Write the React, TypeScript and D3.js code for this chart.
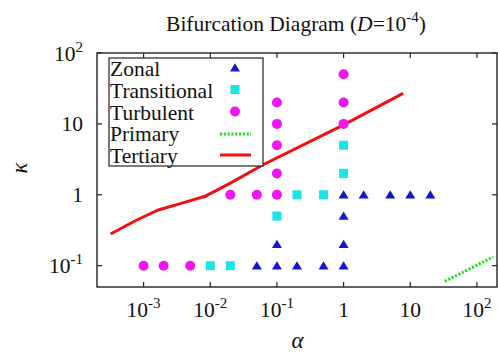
import React from "react";
import * as d3 from "d3";

// ---- data ----
const zonalAlpha = [1, 2, 5, 10, 20, 1, 0.1, 1, 0.05, 0.1, 0.2, 0.5, 1];
const zonalKappa = [1, 1, 1, 1, 1, 0.5, 0.2, 0.2, 0.1, 0.1, 0.1, 0.1, 0.1];

const transAlpha = [0.2, 0.5, 0.1, 1, 1, 0.01, 0.02];
const transKappa = [1, 1, 0.5, 5, 2, 0.1, 0.1];

const turbAlpha = [0.001, 0.002, 0.005, 0.02, 0.05, 0.1, 0.1, 0.1, 0.1, 0.1, 1, 1, 1];
const turbKappa = [0.1, 0.1, 0.1, 1, 1, 1, 2, 5, 10, 20, 10, 20, 50];

const primaryAlpha = [33, 175];
const primaryKappa = [0.06, 0.133];

const tertiary1Alpha = [3.2e-4, 7.5e-4, 1.66e-3, 3.55e-3, 8.9e-3];
const tertiary1Kappa = [0.28, 0.43, 0.61, 0.75, 0.97];
const tertiary2Alpha = [7.8e-3, 0.02, 0.062, 1.0, 7.8];
const tertiary2Kappa = [0.92, 1.46, 2.65, 9.7, 27];

const xTicks = [1e-3, 1e-2, 1e-1, 1, 10, 100];
const xTickBase = ["10", "10", "10", "1", "10", "10"];
const xTickExp = ["-3", "-2", "-1", "", "", "2"];
const yTicks = [0.1, 1, 10, 100];
const yTickBase = ["10", "1", "10", "10"];
const yTickExp = ["-1", "", "", "2"];

const legendLabels = ["Zonal", "Transitional", "Turbulent", "Primary", "Tertiary"];

const BLUE = "#1414d2";
const CYAN = "#18e4ea";
const MAGENTA = "#f014f0";
const GREEN = "#22dd22";
const RED = "#f01010";
const FONT = "'Liberation Serif', 'DejaVu Serif', serif";

const W = 498;
const H = 356;
const L = 97, R = 497, T = 53, B = 287;
const FS = 21.5;
const SUP = 15;

export default function App() {
  const x = d3.scaleLog().domain([2e-4, 200]).range([L, R]);
  const y = d3.scaleLog().domain([0.05, 100]).range([B, T]);
  const line = d3
    .line<[number, number]>()
    .x((d) => x(d[0]))
    .y((d) => y(d[1]));
  const zip = (a: number[], b: number[]) => a.map((v, i) => [v, b[i]] as [number, number]);

  const tri = (cx: number, cy: number, s = 5) =>
    `M${cx},${cy - s * 0.9} L${cx + s},${cy + s * 0.75} L${cx - s},${cy + s * 0.75} Z`;

  const tickLen = 5;
  const legX = 235;
  const legRows = [67.7, 89.5, 111.5, 134, 155];
  const legBase = [76, 97.5, 119.5, 141, 162.5];

  return (
    <div style={{ position: "fixed", left: 0, top: 0 }}>
      <svg width={W} height={H} style={{ display: "block", background: "#fff" }} fontFamily={FONT}>
        {/* title */}
        <text x={296} y={31} fontSize={FS} textAnchor="middle" fill="#111">
          Bifurcation Diagram (<tspan fontStyle="italic">D</tspan>=10
          <tspan fontSize={SUP} dy={-9}>-4</tspan>
          <tspan dy={9}>)</tspan>
        </text>

        {/* data lines */}
        <path d={line(zip(tertiary1Alpha, tertiary1Kappa)) || ""} fill="none" stroke={RED} strokeWidth={3} />
        <path d={line(zip(tertiary2Alpha, tertiary2Kappa)) || ""} fill="none" stroke={RED} strokeWidth={3} />
        <path
          d={line(zip(primaryAlpha, primaryKappa)) || ""}
          fill="none"
          stroke={GREEN}
          strokeWidth={3}
          strokeDasharray="2.2 1.6"
        />

        {/* points */}
        {turbAlpha.map((a, i) => (
          <circle key={"c" + i} cx={x(a)} cy={y(turbKappa[i])} r={5} fill={MAGENTA} />
        ))}
        {transAlpha.map((a, i) => (
          <rect key={"s" + i} x={x(a) - 4.5} y={y(transKappa[i]) - 4.5} width={9} height={9} fill={CYAN} />
        ))}
        {zonalAlpha.map((a, i) => (
          <path key={"t" + i} d={tri(x(a), y(zonalKappa[i]))} fill={BLUE} />
        ))}

        {/* frame */}
        <rect x={L} y={T} width={R - L} height={B - T} fill="none" stroke="#222" strokeWidth={1.4} />

        {/* x ticks */}
        {xTicks.map((t, i) => (
          <g key={"xt" + i}>
            <line x1={x(t)} x2={x(t)} y1={B} y2={B - tickLen} stroke="#222" strokeWidth={1.2} />
            <line x1={x(t)} x2={x(t)} y1={T} y2={T + tickLen} stroke="#222" strokeWidth={1.2} />
            <text x={x(t)} y={316.5} fontSize={FS} textAnchor="middle" fill="#111">
              {xTickBase[i]}
              {xTickExp[i] && (
                <tspan fontSize={SUP} dy={-9}>
                  {xTickExp[i]}
                </tspan>
              )}
            </text>
          </g>
        ))}

        {/* y ticks */}
        {yTicks.map((t, i) => (
          <g key={"yt" + i}>
            <line x1={L} x2={L + tickLen} y1={y(t)} y2={y(t)} stroke="#222" strokeWidth={1.2} />
            <line x1={R} x2={R - tickLen} y1={y(t)} y2={y(t)} stroke="#222" strokeWidth={1.2} />
            <text x={83} y={y(t) + 7.5} fontSize={FS} textAnchor="end" fill="#111">
              {yTickBase[i]}
              {yTickExp[i] && (
                <tspan fontSize={SUP} dy={-9}>
                  {yTickExp[i]}
                </tspan>
              )}
            </text>
          </g>
        ))}

        {/* axis labels */}
        <text x={297.5} y={348} fontSize={23} fontStyle="italic" textAnchor="middle" fill="#111">
          α
        </text>
        <text
          transform={`translate(27,168) rotate(-90)`}
          fontSize={23}
          fontStyle="italic"
          textAnchor="middle"
          fill="#111"
        >
          κ
        </text>

        {/* legend */}
        <rect x={109} y={58} width={154} height={108} fill="#fff" stroke="#222" strokeWidth={1.2} />
        {legendLabels.map((lab, i) => (
          <text key={"l" + i} x={110} y={legBase[i]} fontSize={FS} fill="#111">
            {lab}
          </text>
        ))}
        <path d={tri(legX, legRows[0])} fill={BLUE} />
        <rect x={legX - 4.5} y={legRows[1] - 4.5} width={9} height={9} fill={CYAN} />
        <circle cx={legX} cy={legRows[2]} r={5} fill={MAGENTA} />
        <line x1={220} x2={251} y1={legRows[3]} y2={legRows[3]} stroke={GREEN} strokeWidth={3} strokeDasharray="2.2 1.6" />
        <line x1={220} x2={251} y1={legRows[4]} y2={legRows[4]} stroke={RED} strokeWidth={3} />
      </svg>
    </div>
  );
}
